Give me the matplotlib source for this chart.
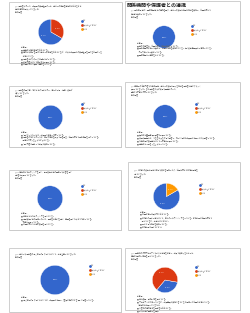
import matplotlib
matplotlib.use("Agg")
import matplotlib.pyplot as plt
from matplotlib.patches import Rectangle
from matplotlib.lines import Line2D

plt.rcParams['font.family'] = ['Noto Sans CJK JP', 'DejaVu Sans']

W, H = 250, 313

# --- データ ---
section_title = "関係機関や保護者との連携"
choice_labels = ["はい", "どちらともいえない", "いいえ"]
choice_colors = ["#3366CC", "#DC3912", "#FF9900"]

questions = [
    ["Q6. 保護者に対して、職員間の共通理解のもと、子どもの様子を定期的に伝えるなど、",
     "十分な連携が図られていますか。", "6件の回答"],
    ["Q7. 関係機関(学校・医療機関等)との連携を図り、子どもの支援に必要な情報を共有し、必要に応じて",
     "会議等に参加していますか。", "6件の回答"],
    ["Q8. 保護者の困り事・悩みごとの相談に対し、適切な助言・提案・支援が",
     "行われていますか。", "6件の回答"],
    ["Q9. 事業所の活動内容や利用時間等、子どもの支援に関する情報を保護者に分かりやすく",
     "説明していますか。また保護者からの質問や要望に対して、",
     "迅速かつ丁寧に対応していますか。", "6件の回答"],
    ["Q10. 定期的にモニタリングを行い、個別支援計画の見直しや改善を行い",
     "保護者に説明していますか。", "6件の回答"],
    ["Q11. 家庭での支援に役立つ情報や資料を提供したり、必要に応じて家庭訪問等を",
     "行っていますか。", "6件の回答"],
    ["Q12. 子どもや保護者の個人情報の取り扱いについて、十分注意していますか。", "6件の回答"],
    ["Q13. 緊急時の対応マニュアルや防災計画等を策定し、職員で共有するとともに、",
     "定期的に避難訓練等を行っていますか。", "6件の回答"],
]

counts = [
    [4, 2, 0],
    [6, 0, 0],
    [6, 0, 0],
    [6, 0, 0],
    [6, 0, 0],
    [5, 0, 1],
    [6, 0, 0],
    [2, 4, 0],
]

comments = [
    ["<ご意見>",
     "■ 送迎時に毎日様子を伝えている。",
     "■ 連絡帳や面談を通して子どもの様子を伝えているが、さらに職員間での共通理解を深める必要がある",
     "    と感じている。",
     "■ 保護者とのやり取りは記録に残している。",
     "■ 支援内容について面談時に説明している。",
     "■ 必要に応じて電話で連絡をしている。"],
    ["<ご意見>",
     "■ 学校の先生と、必要に応じて情報共有をしている。",
     "■ 関係機関との会議に参加し、必要な情報を共有している。相談支援専門員とも連携している。",
     "    ケース会議にも参加している。",
     "■ 医療機関とも連絡をとっている。"],
    ["<ご意見>",
     "■ 相談があった際には、職員間で共有し対応している。",
     "■ 保護者の悩みに対しては、面談の機会を設けて話を聞き、必要に応じて関係機関を紹介している。",
     "    迅速に対応するよう心がけている。",
     "■ 相談内容は記録して職員で共有している。"],
    ["<ご意見>",
     "■ 契約時に重要事項説明書で説明している。",
     "■ 質問や要望には、できるだけその場で回答し、難しい場合は職員間で確認してから回答している。",
     "■ 利用時間の変更等についても丁寧に説明している。",
     "■ 送迎時にも話をするようにしている。"],
    ["<ご意見>",
     "■ 半年ごとにモニタリングを行っている。",
     "■ 個別支援計画の見直しの際は、保護者と面談を行い、意見を聞いたうえで作成している。",
     "    丁寧に説明している。",
     "■ 必要に応じて計画の変更を行っている。"],
    ["<ご意見>",
     "■ 必要な情報は配布物で伝えている。",
     "■ 家庭での過ごし方について、面談の際にアドバイスをしている。家庭訪問は必要に応じて",
     "    行っているが、十分とはいえない。",
     "■ 研修で得た情報を共有している。",
     "■ 家庭訪問は行っていない。"],
    ["<ご意見>",
     "■ 個人情報の取り扱いについては、職員間で確認し、書類は鍵のかかる場所で保管している。"],
    ["<ご意見>",
     "■ 年に数回、避難訓練を行っている。",
     "■ マニュアルは作成しているが、職員全員で共有できているか見直しが必要だと感じている。",
     "    定期的に確認していきたい。",
     "■ 災害時の連絡方法を保護者に伝えている。",
     "■ 防災計画の見直しを行う。"],
]

# --- レイアウト (ピクセル) ---
boxes = [(9, 2, 122, 63), (125, 1, 240, 63), (9, 86, 121, 147), (125, 82, 240, 147),
         (9, 170, 121, 230), (128, 162, 240, 230), (9, 248, 121, 312), (125, 248, 240, 310)]
q_top = [6, 11, 90, 86, 172, 171, 254, 253]
pies = [(51, 32, 13), (164, 37, 11.5), (50.5, 117.5, 12.5), (165, 116.5, 12),
        (50, 198.5, 13), (166.5, 196.5, 13.5), (55, 280, 15), (165, 280, 13)]
legend_pos = [(83, 21), (193, 26), (83, 104), (197, 104), (83, 186), (201, 185), (91, 266), (197, 267)]
comment_top = [47, 43, 132, 132, 213, 212, 297, 296]
start_angles = [90, 90, 90, 90, 90, 90, 90, -130]

fig = plt.figure(figsize=(W / 100, H / 100), dpi=100)
fig.patch.set_facecolor("white")


def fx(x):
    return x / W


def fy(y):
    return 1 - y / H


def pct_label(p):
    return "100%" if p > 99.9 else f"{p:.1f}%"


for i in range(len(counts)):
    x0, y0, x1, y1 = boxes[i]
    # 影と枠
    fig.patches.append(Rectangle((fx(x0 + 1), fy(y1 + 1)), fx(x1 - x0), (y1 - y0) / H,
                                 transform=fig.transFigure, facecolor="#b8b8b8",
                                 edgecolor="none", zorder=-3))
    fig.patches.append(Rectangle((fx(x0), fy(y1)), fx(x1 - x0), (y1 - y0) / H,
                                 transform=fig.transFigure, facecolor="white",
                                 edgecolor="#c8c8c8", linewidth=0.6, zorder=-2))

    if i == 1:
        fig.text(fx(x0 + 2), fy(5.5), section_title, fontsize=3.6, fontweight="bold",
                 color="#222222", va="center", ha="left")

    # 質問文
    for k, line in enumerate(questions[i]):
        fig.text(fx(x0 + 6), fy(q_top[i] + k * 3), line, fontsize=1.3, color="#666666",
                 va="center", ha="left")

    # 円グラフ
    cx, cy, r = pies[i]
    ax = fig.add_axes([fx(cx - r), fy(cy + r), 2 * r / W, 2 * r / H])
    ax.patch.set_alpha(0)
    vals = counts[i]
    nz = [j for j, v in enumerate(vals) if v > 0]
    wedges, texts, autotexts = ax.pie(
        [vals[j] for j in nz], colors=[choice_colors[j] for j in nz],
        startangle=start_angles[i], counterclock=True, autopct=pct_label,
        pctdistance=0.62 if len(nz) > 1 else 0.0,
        wedgeprops=dict(edgecolor="white", linewidth=0.3),
        textprops=dict(fontsize=1.5, color="white"))
    ax.set_aspect("auto")
    ax.set_xlim(-1.02, 1.02)
    ax.set_ylim(-1.02, 1.02)
    ax.axis("off")

    # 凡例
    lx, ly = legend_pos[i]
    handles = [Line2D([], [], marker="o", linestyle="none", markersize=1.0,
                      markerfacecolor=c, markeredgecolor=c) for c in choice_colors]
    fig.legend(handles, choice_labels, loc="upper left",
               bbox_to_anchor=(fx(lx - 1.5), fy(ly - 1.5)), bbox_transform=fig.transFigure,
               fontsize=1.2, frameon=False, handlelength=0.6, handletextpad=0.4,
               labelspacing=1.0, borderpad=0, borderaxespad=0, labelcolor="#777777")

    # ご意見
    for k, line in enumerate(comments[i]):
        fig.text(fx(x0 + 12), fy(comment_top[i] + k * 3), line, fontsize=1.3, color="#666666",
                 va="center", ha="left")

fig.savefig("out.png", dpi=100, facecolor="white")
